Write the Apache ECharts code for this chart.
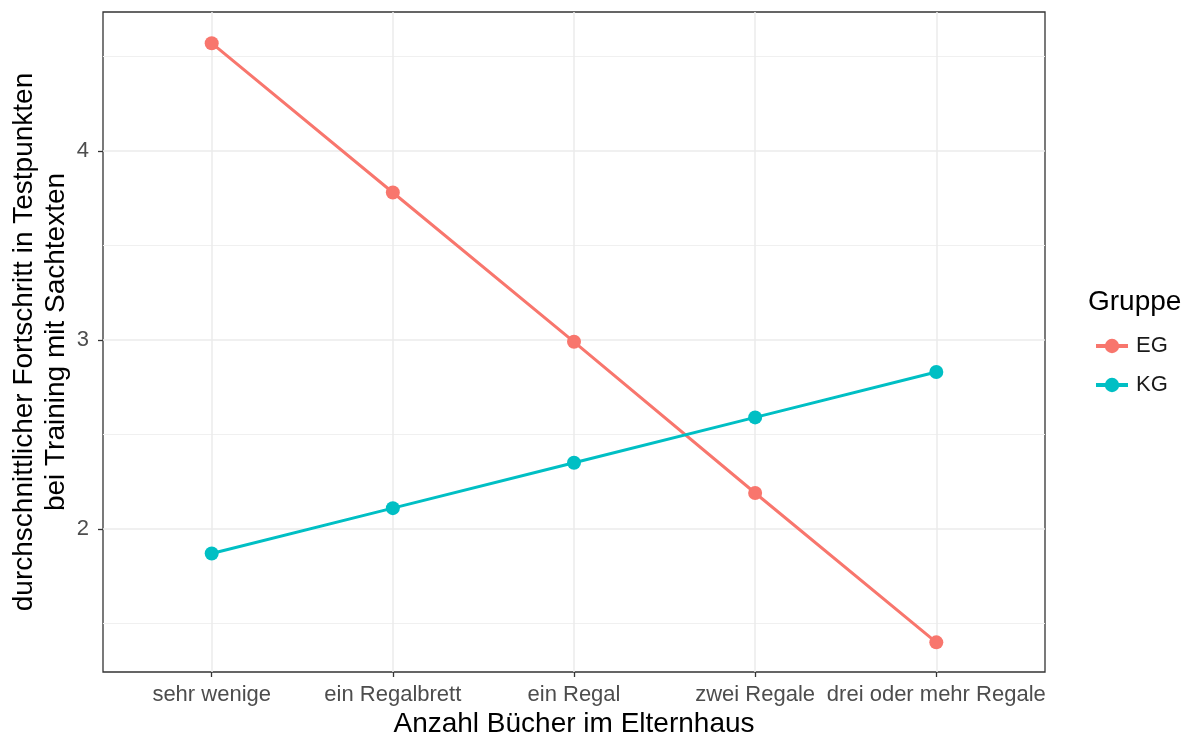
<!DOCTYPE html>
<html>
<head>
<meta charset="utf-8">
<script src="https://cdn.jsdelivr.net/npm/echarts@6/dist/echarts.min.js"></script>
<style>
html,body{margin:0;padding:0;background:#fff;}
#c{width:1182px;height:738px;}
</style>
</head>
<body>
<div id="c"></div>
<script>
const categories = ['sehr wenige', 'ein Regalbrett', 'ein Regal', 'zwei Regale', 'drei oder mehr Regale'];
const egValues = [4.57, 3.78, 2.99, 2.19, 1.40];
const kgValues = [1.87, 2.11, 2.35, 2.59, 2.83];
const yMajorTicks = [2, 3, 4];
const yMinorTicks = [1.5, 2.5, 3.5, 4.5];
const xTickPositions = [0, 1, 2, 3, 4];

const FONT = '"Liberation Sans", Arial, sans-serif';
const chart = echarts.init(document.getElementById('c'));

function pairs(vals) { return vals.map((v, i) => [i, v]); }

const option = {
  backgroundColor: '#ffffff',
  animation: false,
  textStyle: { fontFamily: FONT },
  grid: {
    left: 103, right: 137, top: 12, bottom: 66,
    show: true, borderColor: '#333333', borderWidth: 1.3, backgroundColor: 'transparent'
  },
  xAxis: {
    type: 'value', min: -0.6, max: 4.6,
    axisLine: { show: false, onZero: false },
    axisTick: { show: true, length: 5, customValues: xTickPositions, lineStyle: { color: '#333333', width: 1.3 } },
    axisLabel: {
      customValues: xTickPositions, margin: 12, color: '#4D4D4D', fontSize: 22, fontFamily: FONT,
      formatter: v => categories[Math.round(v)]
    },
    splitLine: { show: true, lineStyle: { color: '#EBEBEB', width: 1.5 } }
  },
  yAxis: [{
    type: 'value', min: 1.243, max: 4.735,
    axisLine: { show: false, onZero: false },
    axisTick: { show: true, length: 5, customValues: yMajorTicks, lineStyle: { color: '#333333', width: 1.3 } },
    axisLabel: { customValues: yMajorTicks, margin: 14, color: '#4D4D4D', fontSize: 22, fontFamily: FONT },
    splitLine: { show: true, lineStyle: { color: '#EBEBEB', width: 1.5 } }
  }, {
    type: 'value', min: 1.243, max: 4.735, position: 'left',
    axisLine: { show: false, onZero: false },
    axisTick: { show: false, customValues: yMinorTicks },
    axisLabel: { show: false, customValues: yMinorTicks },
    splitLine: { show: true, lineStyle: { color: '#F0F0F0', width: 1 } }
  }],
  legend: {
    orient: 'vertical', left: 1089, top: 330,
    itemWidth: 32, itemHeight: 18, itemGap: 17,
    lineStyle: { width: 4 },
    textStyle: { fontSize: 22, color: '#1A1A1A', fontFamily: FONT, padding: [0, 0, 0, 3] },
    data: ['EG', 'KG']
  },
  graphic: [
    { type: 'text', x: 1088, y: 302, style: { text: 'Gruppe', fontSize: 28, fill: '#000', fontFamily: FONT, align: 'left', verticalAlign: 'middle' } },
    { type: 'text', x: 574, y: 724, style: { text: 'Anzahl Bücher im Elternhaus', fontSize: 28, fill: '#000', fontFamily: FONT, align: 'center', verticalAlign: 'middle' } },
    { type: 'text', x: 40, y: 342, rotation: Math.PI / 2, style: { text: 'durchschnittlicher Fortschritt in Testpunkten\nbei Training mit Sachtexten', fontSize: 28, lineHeight: 32, fill: '#000', fontFamily: FONT, align: 'center', verticalAlign: 'middle' } }
  ],
  series: [{
    name: 'EG', type: 'line', data: pairs(egValues),
    color: '#F8766D', symbol: 'circle', symbolSize: 14,
    lineStyle: { width: 3 }, itemStyle: { color: '#F8766D' }
  }, {
    name: 'KG', type: 'line', data: pairs(kgValues),
    color: '#00BFC4', symbol: 'circle', symbolSize: 14,
    lineStyle: { width: 3 }, itemStyle: { color: '#00BFC4' }
  }]
};
chart.setOption(option);
</script>
</body>
</html>
